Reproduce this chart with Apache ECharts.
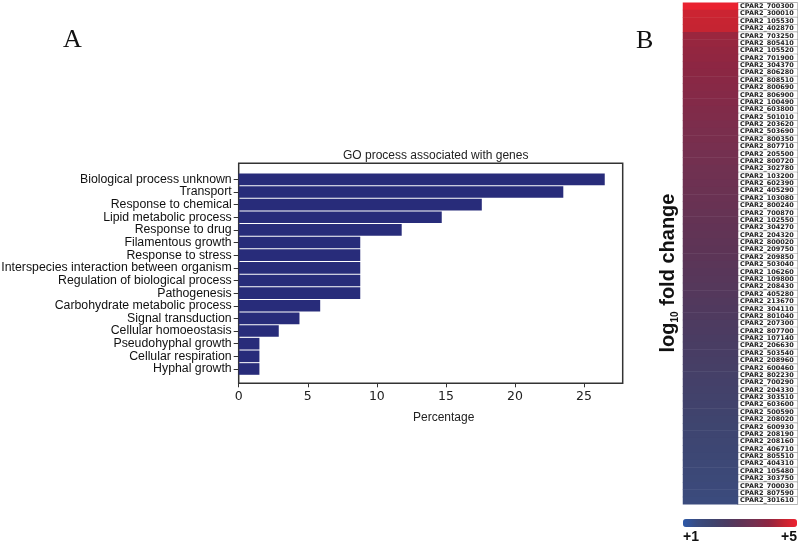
<!DOCTYPE html>
<html><head><meta charset="utf-8">
<script src="https://cdn.jsdelivr.net/npm/echarts@6/dist/echarts.min.js"></script>
<style>html,body{margin:0;padding:0;background:#fff}#c{width:800px;height:543px}</style>
</head><body><div id="c"></div>
<script>
const goCategories = [
  'Biological process unknown','Transport','Response to chemical','Lipid metabolic process',
  'Response to drug','Filamentous growth','Response to stress','Interspecies interaction between organism',
  'Regulation of biological process','Pathogenesis','Carbohydrate metabolic process','Signal transduction',
  'Cellular homoeostasis','Pseudohyphal growth','Cellular respiration','Hyphal growth'
];
const goPercent = [26.5, 23.5, 17.6, 14.7, 11.8, 8.8, 8.8, 8.8, 8.8, 8.8, 5.9, 4.4, 2.9, 1.5, 1.5, 1.5];
const xTicks = [0, 5, 10, 15, 20, 25];

const geneIds = [
  'CPAR2_700300','CPAR2_300010','CPAR2_105530','CPAR2_402870','CPAR2_703250','CPAR2_805410',
  'CPAR2_105520','CPAR2_701900','CPAR2_304370','CPAR2_806280','CPAR2_808510','CPAR2_800690',
  'CPAR2_806900','CPAR2_100490','CPAR2_603800','CPAR2_501010','CPAR2_203620','CPAR2_503690',
  'CPAR2_800350','CPAR2_807710','CPAR2_205500','CPAR2_800720','CPAR2_302780','CPAR2_103200',
  'CPAR2_602390','CPAR2_405290','CPAR2_103080','CPAR2_800240','CPAR2_700870','CPAR2_102550',
  'CPAR2_304270','CPAR2_204320','CPAR2_800020','CPAR2_209750','CPAR2_209850','CPAR2_503040',
  'CPAR2_106260','CPAR2_109800','CPAR2_208430','CPAR2_405280','CPAR2_213670','CPAR2_304110',
  'CPAR2_801040','CPAR2_207300','CPAR2_807700','CPAR2_107140','CPAR2_206630','CPAR2_503540',
  'CPAR2_208960','CPAR2_600460','CPAR2_802230','CPAR2_700290','CPAR2_204330','CPAR2_303510',
  'CPAR2_603600','CPAR2_500590','CPAR2_208020','CPAR2_600930','CPAR2_208190','CPAR2_208160',
  'CPAR2_406710','CPAR2_805510','CPAR2_404310','CPAR2_105480','CPAR2_303750','CPAR2_700030',
  'CPAR2_807590','CPAR2_301610'
];
const log10FC = [
  4.95, 4.62, 4.58, 4.55, 4.12, 4.09, 4.05, 4.03, 3.98, 3.95,
  3.91, 3.86, 3.83, 3.79, 3.74, 3.71, 3.66, 3.62, 3.59, 3.55,
  3.50, 3.47, 3.42, 3.38, 3.35, 3.30, 3.27, 3.22, 3.18, 3.14,
  3.10, 3.06, 3.02, 2.98, 2.94, 2.90, 2.86, 2.82, 2.78, 2.74,
  2.70, 2.66, 2.62, 2.58, 2.54, 2.50, 2.46, 2.42, 2.38, 2.34,
  2.30, 2.26, 2.22, 2.18, 2.14, 2.10, 2.06, 2.02, 1.98, 1.94,
  1.90, 1.86, 1.82, 1.78, 1.74, 1.70, 1.65, 1.60
];
const colorbarLabels = ['+1', '+5'];

const chart = echarts.init(document.getElementById('c'), null, {renderer: 'canvas'});
const sans = 'Liberation Sans, Arial, sans-serif';

chart.setOption({
  backgroundColor: '#fff',
  animation: false,
  title: {
    text: 'GO process associated with genes',
    left: 430.7, top: 145, textAlign: 'center',
    textStyle: {fontSize: 12, fontWeight: 'normal', color: '#222', fontFamily: sans}
  },
  grid: [
    {left: 238.7, top: 163.3, width: 384, height: 220, show: true, borderColor: '#333', borderWidth: 1.5,
     backgroundColor: 'transparent', outerBoundsMode: 'none', containLabel: false},
    {left: 238.7, top: 173, width: 384, height: 202.3, outerBoundsMode: 'none', containLabel: false},
    {left: 683, top: 2.7, width: 55, height: 501.6, outerBoundsMode: 'none', containLabel: false}
  ],
  xAxis: [
    {gridIndex: 0, type: 'value', min: 0, max: 27.8,
     axisLine: {show: false}, splitLine: {show: false},
     axisTick: {show: true, length: 4, customValues: xTicks, lineStyle: {color: '#333'}},
     axisLabel: {customValues: xTicks, fontFamily: 'DejaVu Sans', fontSize: 12.5, color: '#222', margin: 7},
     name: 'Percentage', nameLocation: 'middle', nameGap: 28,
     nameTextStyle: {fontSize: 12, fontFamily: sans, color: '#222', padding: [0, 0, 0, 26]}},
    {gridIndex: 1, type: 'value', min: 0, max: 27.8, show: false},
    {gridIndex: 2, type: 'category', data: ['log10 fold change'], show: false}
  ],
  yAxis: [
    {gridIndex: 0, type: 'value', show: false},
    {gridIndex: 1, type: 'category', data: goCategories, inverse: true,
     axisLine: {show: false},
     axisTick: {show: true, length: 5, alignWithLabel: true, lineStyle: {color: '#333'}},
     axisLabel: {interval: 0, fontSize: 12.3, color: '#111', margin: 7, fontFamily: sans}},
    {gridIndex: 2, type: 'category', data: geneIds, inverse: true, position: 'right',
     axisLine: {show: false}, axisTick: {show: false},
     axisLabel: {interval: 0, margin: 0, fontSize: 6.5, fontWeight: 'bold', fontFamily: 'DejaVu Sans',
       color: '#222', backgroundColor: '#fff', borderColor: '#9a9a9a', borderWidth: 0.6,
       width: 57, height: 7.38, lineHeight: 7.38, padding: [0, 0, 0, 2], align: 'left'}}
  ],
  visualMap: {
    type: 'continuous', seriesIndex: 1, min: 1, max: 5,
    orient: 'horizontal', left: 683, top: 519, itemWidth: 8, itemHeight: 114,
    padding: 0, calculable: false, realtime: false, hoverLink: false, showLabel: false,
    inRange: {color: ['#2c58a8', '#3a4c80', '#3e4570', '#4a3c62', '#5e3456', '#743050', '#8e2642', '#c02432', '#ee2230']}
  },
  graphic: [
    {type: 'text', left: 63, top: 27, style: {text: 'A', font: '26px "Liberation Serif", serif', fill: '#111'}},
    {type: 'text', left: 636, top: 28, style: {text: 'B', font: '26px "Liberation Serif", serif', fill: '#111'}},
    {type: 'text', x: 668, y: 273, rotation: Math.PI / 2,
     style: {text: '{a|log}{s|10}{a| fold change}', align: 'center', verticalAlign: 'middle', fill: '#111',
       rich: {a: {fontSize: 20, fontWeight: 'bold', fontFamily: sans, lineHeight: 24},
              s: {fontSize: 10, fontWeight: 'bold', fontFamily: sans, verticalAlign: 'bottom', lineHeight: 24}}}},
    {type: 'text', left: 683, top: 530, style: {text: colorbarLabels[0], font: 'bold 14px "Liberation Sans", Arial', fill: '#111'}},
    {type: 'text', right: 3, top: 530, style: {text: colorbarLabels[1], font: 'bold 14px "Liberation Sans", Arial', fill: '#111'}}
  ],
  series: [
    {type: 'bar', xAxisIndex: 1, yAxisIndex: 1, data: goPercent, barCategoryGap: '8%',
     itemStyle: {color: '#282c7a'}},
    {type: 'heatmap', xAxisIndex: 2, yAxisIndex: 2,
     data: geneIds.map((g, i) => [0, i, log10FC[i]])}
  ]
});
</script>
</body></html>
